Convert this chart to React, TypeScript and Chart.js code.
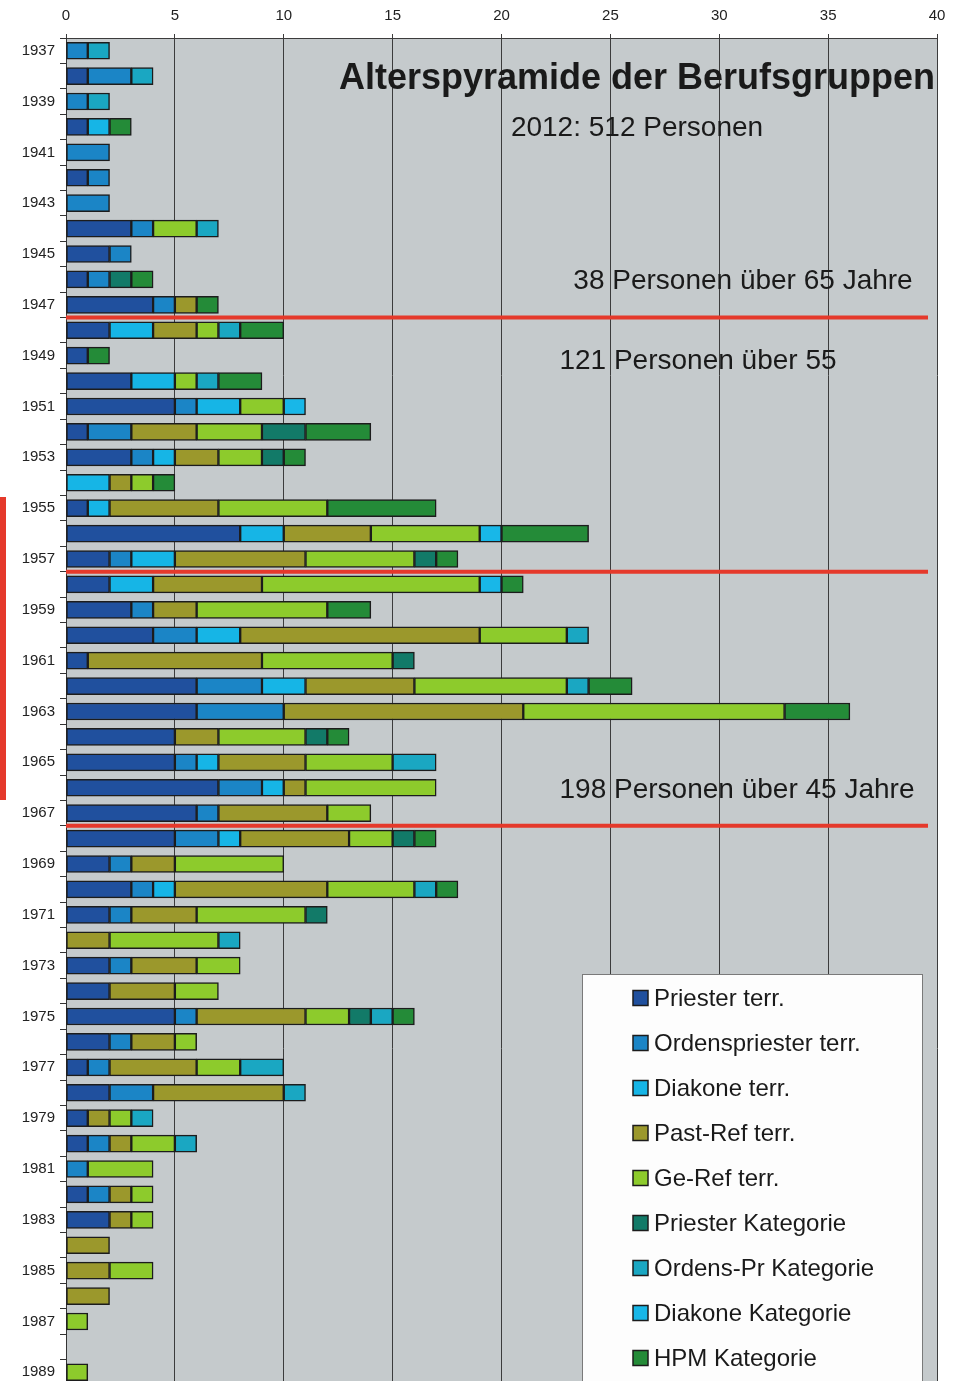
import React, { useEffect, useRef } from "react";
import { Chart, registerables } from "chart.js";

Chart.register(...registerables);

const years = [
  "1937", "1938", "1939", "1940", "1941", "1942", "1943", "1944", "1945", "1946", "1947",
  "1948", "1949", "1950", "1951", "1952", "1953", "1954", "1955", "1956", "1957",
  "1958", "1959", "1960", "1961", "1962", "1963", "1964", "1965", "1966", "1967",
  "1968", "1969", "1970", "1971", "1972", "1973", "1974", "1975", "1976", "1977",
  "1978", "1979", "1980", "1981", "1982", "1983", "1984", "1985", "1986", "1987", "1988", "1989",
];

const priesterTerr = [0,1,0,1,0,1,0,3,2,1,4, 2,1,3,5,1,3,0,1,8,2, 2,3,4,1,6,6,5,5,7,6, 5,2,3,2,0,2,2,5,2,1,2,1,1,0,1,2,0,0,0,0,0,0];
const ordensTerr = [1,2,1,0,2,1,2,1,1,1,1, 0,0,0,1,2,1,0,0,0,1, 0,1,2,0,3,4,0,1,2,1, 2,1,1,1,0,1,0,1,1,1,2,0,1,1,1,0,0,0,0,0,0,0];
const diakoneTerr = [0,0,0,1,0,0,0,0,0,0,0, 2,0,2,2,0,1,2,1,2,2, 2,0,2,0,2,0,0,1,1,0, 1,0,1,0,0,0,0,0,0,0,0,0,0,0,0,0,0,0,0,0,0,0];
const pastRef = [0,0,0,0,0,0,0,0,0,0,1, 2,0,0,0,3,2,1,5,4,6, 5,2,11,8,5,11,2,4,1,5, 5,2,7,3,2,3,3,5,2,4,6,1,1,0,1,1,2,2,2,0,0,0];
const geRef = [0,0,0,0,0,0,0,2,0,0,0, 1,0,1,2,3,2,1,5,5,5, 10,6,4,6,7,12,4,4,6,2, 2,5,4,5,5,2,2,2,1,2,0,1,2,3,1,1,0,2,0,1,0,1];
const priesterKat = [0,0,0,0,0,0,0,0,0,1,0, 0,0,0,0,2,1,0,0,0,1, 0,0,0,1,0,0,1,0,0,0, 1,0,0,1,0,0,0,1,0,0,0,0,0,0,0,0,0,0,0,0,0,0];
const ordensKat = [1,1,1,0,0,0,0,1,0,0,0, 1,0,1,0,0,0,0,0,0,0, 0,0,1,0,1,0,0,2,0,0, 0,0,1,0,1,0,0,1,0,2,1,1,1,0,0,0,0,0,0,0,0,0];
const diakoneKat = [0,0,0,0,0,0,0,0,0,0,0, 0,0,0,1,0,0,0,0,1,0, 1,0,0,0,0,0,0,0,0,0, 0,0,0,0,0,0,0,0,0,0,0,0,0,0,0,0,0,0,0,0,0,0];
const hpmKat = [0,0,0,1,0,0,0,0,0,1,1, 2,1,2,0,3,1,1,5,4,1, 1,2,0,0,2,3,1,0,0,0, 1,0,1,0,0,0,0,1,0,0,0,0,0,0,0,0,0,0,0,0,0,0];

const seriesLabels = [
  "Priester terr.",
  "Ordenspriester terr.",
  "Diakone terr.",
  "Past-Ref terr.",
  "Ge-Ref terr.",
  "Priester Kategorie",
  "Ordens-Pr Kategorie",
  "Diakone Kategorie",
  "HPM Kategorie",
];
const seriesValues = [priesterTerr, ordensTerr, diakoneTerr, pastRef, geRef, priesterKat, ordensKat, diakoneKat, hpmKat];
const seriesColors = ["#20509e", "#1b85c6", "#16b5e6", "#9b982c", "#8dcb2c", "#127a68", "#1aa7c2", "#18b7e8", "#248b38"];

const xTicks = [0, 5, 10, 15, 20, 25, 30, 35, 40];
const dividerYears = ["1947", "1957", "1967"];

const FONT = "'Liberation Sans', Arial, sans-serif";

const bgPlugin = {
  id: "bgPlugin",
  beforeDraw(chart: any) {
    const { ctx, chartArea: a } = chart;
    ctx.save();
    ctx.fillStyle = "#ffffff";
    ctx.fillRect(0, 0, chart.width, chart.height);
    ctx.fillStyle = "#c5cacc";
    ctx.fillRect(a.left, a.top, a.right - a.left, a.bottom - a.top);
    ctx.restore();
  },
};

const overlayPlugin = {
  id: "overlayPlugin",
  afterDatasetsDraw(chart: any) {
    const { ctx, chartArea: a } = chart;
    const y = chart.scales.y;
    ctx.save();
    ctx.strokeStyle = "#e5392b";
    ctx.lineWidth = 4;
    dividerYears.forEach((yr) => {
      const i = years.indexOf(yr);
      const py = (y.getPixelForValue(i) + y.getPixelForValue(i + 1)) / 2;
      ctx.beginPath();
      ctx.moveTo(a.left, py);
      ctx.lineTo(a.right - 9, py);
      ctx.stroke();
    });
    ctx.fillStyle = "#1a1a1a";
    ctx.textAlign = "center";
    ctx.textBaseline = "middle";
    ctx.font = `bold 36px ${FONT}`;
    ctx.fillText("Alterspyramide der Berufsgruppen", 637, 79);
    ctx.font = `28px ${FONT}`;
    ctx.fillText("2012: 512 Personen", 637, 128);
    ctx.fillText("38 Personen über 65 Jahre", 743, 281);
    ctx.fillText("121 Personen über 55", 698, 361);
    ctx.fillText("198 Personen über 45 Jahre", 737, 790);
    ctx.restore();
  },
  afterDraw(chart: any) {
    const { ctx } = chart;
    ctx.save();
    const left = 582, top = 974, right = 922;
    ctx.fillStyle = "#fdfdfd";
    ctx.fillRect(left, top, right - left, chart.height - top + 5);
    ctx.strokeStyle = "#7a7a7a";
    ctx.lineWidth = 1;
    ctx.strokeRect(left + 0.5, top + 0.5, right - left, chart.height - top + 5);
    ctx.font = `24px ${FONT}`;
    ctx.textAlign = "left";
    ctx.textBaseline = "middle";
    chart.data.datasets.forEach((ds: any, i: number) => {
      const cy = 998 + i * 45;
      ctx.fillStyle = ds.backgroundColor;
      ctx.fillRect(633, cy - 7.5, 15, 15);
      ctx.strokeStyle = "#1c1c1c";
      ctx.lineWidth = 1.5;
      ctx.strokeRect(633, cy - 7.5, 15, 15);
      ctx.fillStyle = "#1a1a1a";
      ctx.fillText(ds.label, 654, cy + 1);
    });
    ctx.restore();
  },
};

export default function App() {
  const ref = useRef<HTMLCanvasElement | null>(null);

  useEffect(() => {
    if (!ref.current) return;
    const chart = new Chart(ref.current, {
      type: "bar",
      data: {
        labels: years,
        datasets: seriesLabels.map((label, i) => ({
          label,
          data: seriesValues[i].map((v) => (v ? v : null)),
          backgroundColor: seriesColors[i],
          borderColor: "#1c1c1c",
          borderWidth: 1.5,
          borderSkipped: false,
          barThickness: 17,
        })),
      },
      options: {
        indexAxis: "y",
        animation: false,
        responsive: false,
        devicePixelRatio: 1,
        layout: { padding: { left: 0, right: 23, top: 0, bottom: 0 } },
        plugins: {
          legend: { display: false },
          tooltip: { enabled: false },
          title: { display: false },
        },
        scales: {
          x: {
            position: "top",
            stacked: true,
            min: 0,
            max: 40,
            afterBuildTicks: (s: any) => {
              s.ticks = xTicks.map((v) => ({ value: v }));
            },
            ticks: {
              font: { family: FONT, size: 15 },
              color: "#222",
              padding: 9,
              maxRotation: 0,
            },
            grid: { color: "#3c3c3c", lineWidth: 1, tickLength: 4, drawTicks: true },
            border: { color: "#3c3c3c", width: 1 },
            afterFit: (s: any) => {
              s.height = 38;
            },
          },
          y: {
            stacked: true,
            ticks: {
              autoSkip: false,
              font: { family: FONT, size: 15 },
              color: "#222",
              padding: 5,
              callback: function (this: any, v: any, i: number) {
                return i % 2 === 0 ? this.getLabelForValue(v) : "";
              },
            },
            grid: { display: true, drawOnChartArea: false, offset: true, tickLength: 6, color: "#333" },
            border: { color: "#333", width: 1 },
            afterFit: (s: any) => {
              s.width = 66;
            },
          },
        },
      } as any,
      plugins: [bgPlugin, overlayPlugin],
    });
    return () => chart.destroy();
  }, []);

  return (
    <div style={{ position: "fixed", left: 0, top: 0, width: 960, height: 1381, background: "#fff", overflow: "hidden" }}>
      <canvas ref={ref} width={960} height={1399} style={{ display: "block" }} />
      <div style={{ position: "absolute", left: 0, top: 497, width: 6, height: 303, background: "#e5392b" }} />
    </div>
  );
}
